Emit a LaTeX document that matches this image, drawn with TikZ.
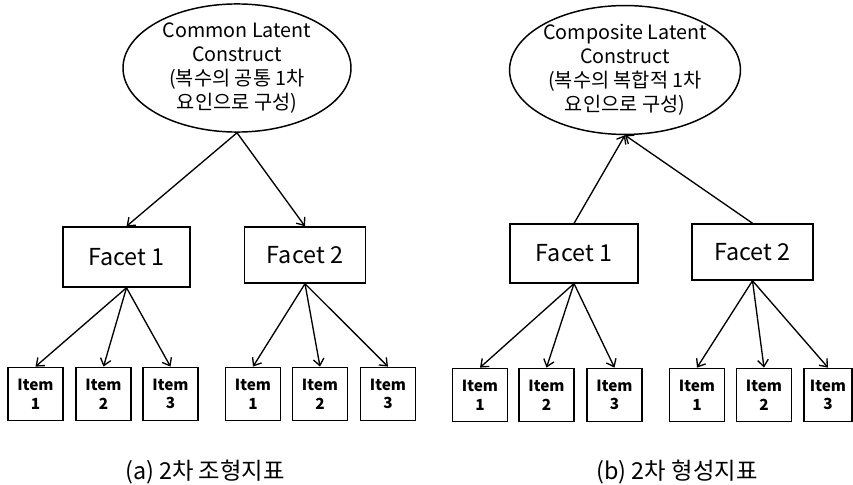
\documentclass[tikz,border=0pt]{standalone}
\usepackage{fontspec}
\setmainfont{Noto Sans CJK KR}
\usetikzlibrary{shapes.geometric,arrows.meta}

\tikzset{
  latent/.style={draw,ellipse,line width=1.1pt,inner sep=0pt,
    minimum width=171pt,minimum height=87pt,align=center,
    font=\fontsize{14.8}{18}\selectfont},
  facet/.style={draw,rectangle,line width=1.1pt,inner sep=0pt,
    font=\fontsize{17.5}{20}\selectfont},
  item/.style={draw,rectangle,line width=1.1pt,inner sep=0pt,
    minimum width=41pt,minimum height=40pt,align=center,
    font=\bfseries\fontsize{11.5}{14}\selectfont},
  link/.style={line width=1pt,-{Straight Barb[length=5pt,width=8pt,line width=1pt]}},
  caption/.style={font=\fontsize{17.5}{20}\selectfont},
}

\begin{document}
\begin{tikzpicture}[x=0.75pt,y=-0.75pt]
  \useasboundingbox (0,0) rectangle (853,485);

  % (a) reflective
  \node[latent] (common) at (237,68)
    {Common Latent\\Construct\\(복수의 공통 1차\\요인으로 구성)};
  \node[facet,minimum width=95pt,minimum height=45pt] (fa1) at (126.5,257) {Facet 1};
  \node[facet,minimum width=91pt,minimum height=42pt] (fa2) at (305,255) {Facet 2};
  \draw[link] (common.south) -- (fa1.north);
  \draw[link] (common.south) -- (fa2.north);

  \foreach[count=\i] \x in {35.5,103.5,170.5} {
    \node[item] (ia\i) at (\x,394) {Item\\\i};
    \draw[link] (fa1.south) -- (ia\i.north);
  }
  \foreach[count=\i] \x in {253,320,388} {
    \node[item] (ja\i) at (\x,394) {Item\\\i};
    \draw[link] (fa2.south) -- (ja\i.north);
  }

  % (b) formative
  \node[latent] (composite) at (625,70)
    {Composite Latent\\Construct\\(복수의 복합적 1차\\요인으로 구성)};
  \node[facet,minimum width=96pt,minimum height=44pt] (fb1) at (574,253.5) {Facet 1};
  \node[facet,minimum width=91pt,minimum height=42pt] (fb2) at (752.5,252) {Facet 2};
  \draw[link] (fb1.north) -- (composite.south);
  \draw[link] (fb2.north) -- (composite.south);

  \foreach[count=\i] \x in {480,546.5,614.5} {
    \node[item] (ib\i) at (\x,395) {Item\\\i};
    \draw[link] (fb1.south) -- (ib\i.north);
  }
  \foreach[count=\i] \x in {697,764} {
    \node[item] (jb\i) at (\x,395) {Item\\\i};
    \draw[link] (fb2.south) -- (jb\i.north);
  }
  \node[item,minimum width=36pt] (jb3) at (828,395) {Item\\3};
  \draw[link] (fb2.south) -- (jb3.north);

  % captions
  \node[caption] (capa) at (205,472) {(a) 2차 조형지표};
  \node[caption] (capb) at (677,472) {(b) 2차 형성지표};
\end{tikzpicture}
\end{document}
